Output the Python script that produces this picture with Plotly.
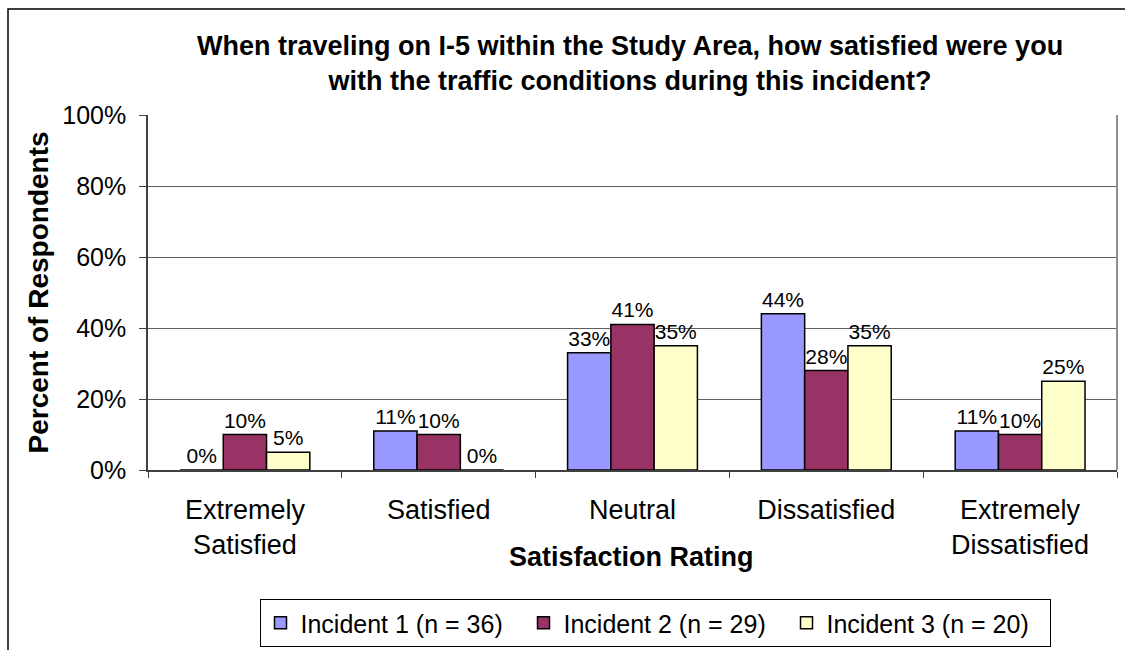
import plotly.graph_objects as go

# Survey results: satisfaction with I-5 traffic conditions per incident
categories = ["Extremely<br>Satisfied", "Satisfied", "Neutral", "Dissatisfied", "Extremely<br>Dissatisfied"]
incident_1 = [0.00, 0.11, 0.33, 0.44, 0.11]
incident_2 = [0.10, 0.10, 0.41, 0.28, 0.10]
incident_3 = [0.05, 0.00, 0.35, 0.35, 0.25]
series_names = ["Incident 1 (n = 36)", "Incident 2 (n = 29)", "Incident 3 (n = 20)"]
series_colors = ["#9999FF", "#993366", "#FFFFCC"]
y_ticks = [0, 0.2, 0.4, 0.6, 0.8, 1.0]

FONT = "Arial, Liberation Sans, sans-serif"

fig = go.Figure()
for name, vals, color in zip(series_names, [incident_1, incident_2, incident_3], series_colors):
    fig.add_trace(go.Bar(
        name=name,
        x=categories,
        y=vals,
        marker=dict(color=color, line=dict(color="black", width=1.5)),
        text=vals,
        texttemplate="%{y:.0%}",
        textposition="outside",
        textfont=dict(family=FONT, size=21, color="black"),
        cliponaxis=False,
    ))

W, H = 1125, 650
L, R, T, B = 148, 8, 115, 180
pw, ph = W - L - R, H - T - B

def px_x(x):
    return (x - L) / pw

def px_y(y):
    return (H - B - y) / ph

fig.update_layout(
    width=W, height=H,
    margin=dict(l=L, r=R, t=T, b=B, pad=0, autoexpand=False),
    paper_bgcolor="white",
    plot_bgcolor="white",
    barmode="group",
    bargap=0.33,
    bargroupgap=0,
    font=dict(family=FONT, color="black"),
    showlegend=True,
    legend=dict(
        orientation="h",
        xref="container", yref="container",
        x=655 / W, xanchor="center",
        y=1 - 599 / H, yanchor="top",
        font=dict(family=FONT, size=25, color="black"),
        bordercolor="black", borderwidth=1,
        bgcolor="white",
        itemwidth=30,
        entrywidth=218,
        traceorder="normal",
    ),
    xaxis=dict(
        type="category",
        showline=True, linecolor="#404040", linewidth=1.5,
        ticks="outside", tickson="boundaries", ticklen=6, tickcolor="#404040",
        tickfont=dict(family=FONT, size=27, color="black"),
        ticklabelstandoff=15,
        showgrid=False,
    ),
    yaxis=dict(
        range=[0, 1],
        tickvals=y_ticks,
        tickformat=".0%",
        showline=True, linecolor="#404040", linewidth=1.5,
        ticks="outside", ticklen=7, tickcolor="#404040",
        tickfont=dict(family=FONT, size=25, color="black"),
        ticklabelstandoff=8,
        showgrid=True, gridcolor="#606060", gridwidth=1,
        zeroline=False,
    ),
    shapes=[
        # right edge of the plot frame
        dict(type="line", xref="paper", yref="paper", x0=1, x1=1, y0=0, y1=1,
             line=dict(color="#909090", width=2)),
        # outer chart frame
        dict(type="rect", xref="paper", yref="paper",
             x0=px_x(8), x1=px_x(1135), y0=px_y(660), y1=px_y(9),
             line=dict(color="black", width=1.5), fillcolor="rgba(0,0,0,0)", layer="above"),
    ],
    annotations=[
        dict(text="<b>When traveling on I-5 within the Study Area, how satisfied were you<br>with the traffic conditions during this incident?</b>",
             xref="paper", yref="paper", x=px_x(630), y=px_y(29), xanchor="center", yanchor="top",
             showarrow=False, font=dict(family=FONT, size=27, color="black")),
        dict(text="<b>Percent of Respondents</b>", textangle=-90,
             xref="paper", yref="paper", x=px_x(38), y=0.5, xanchor="center", yanchor="middle",
             showarrow=False, font=dict(family=FONT, size=28, color="black")),
        dict(text="<b>Satisfaction Rating</b>",
             xref="paper", yref="paper", x=px_x(631), y=px_y(557), xanchor="center", yanchor="middle",
             showarrow=False, font=dict(family=FONT, size=27, color="black")),
    ],
)

fig.write_html("out.html")
